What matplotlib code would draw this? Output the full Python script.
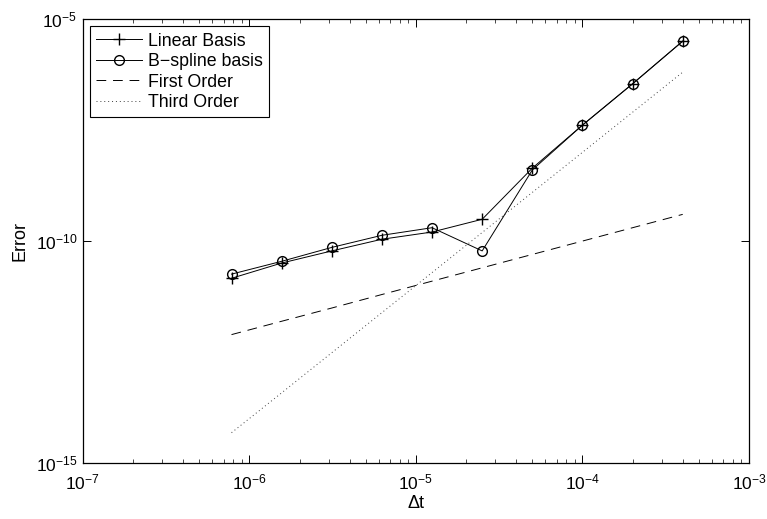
import matplotlib
matplotlib.use("Agg")
import matplotlib.pyplot as plt
from matplotlib.ticker import LogLocator

# Datos
dt = [7.8125e-7, 1.5625e-6, 3.125e-6, 6.25e-6, 1.25e-5, 2.5e-5, 5e-5, 1e-4, 2e-4, 4e-4]
err_linear = [1.45e-11, 3.2e-11, 6.0e-11, 1.1e-10, 1.6e-10, 3.1e-10, 4.4e-9, 4.1e-8, 3.5e-7, 3.2e-6]
err_bspline = [1.8e-11, 3.5e-11, 7.2e-11, 1.35e-10, 2.0e-10, 6.0e-11, 4.0e-9, 4.1e-8, 3.5e-7, 3.2e-6]
first_order = [7.8e-13, 1.56e-12, 3.1e-12, 6.25e-12, 1.25e-11, 2.5e-11, 5e-11, 1e-10, 2e-10, 4e-10]
third_order = [4.8e-15, 3.8e-14, 3.05e-13, 2.44e-12, 1.95e-11, 1.56e-10, 1.25e-9, 1e-8, 8e-8, 6.4e-7]

plt.rcParams["font.family"] = ["Liberation Sans", "DejaVu Sans"]
plt.rcParams["mathtext.fontset"] = "custom"
plt.rcParams["mathtext.rm"] = "Liberation Sans"
plt.rcParams["mathtext.it"] = "Liberation Sans"
plt.rcParams["mathtext.default"] = "regular"

fig = plt.figure(figsize=(7.67, 5.19), dpi=100)
ax = fig.add_axes([0.108, 0.108, 0.8685, 0.855])

ax.loglog(dt, err_linear, "k-", marker="+", markersize=8, linewidth=0.7, label="Linear Basis")
ax.loglog(dt, err_bspline, "k-", marker="o", markersize=7, markerfacecolor="none",
          linewidth=0.7, label="B\u2212spline basis")
ax.loglog(dt, first_order, "k", linestyle=(0, (10, 7)), linewidth=0.7, label="First Order")
ax.loglog(dt, third_order, color="0.25", linestyle=(0, (1, 3)), linewidth=0.7, label="Third Order")

ax.set_xlim(1e-7, 1e-3)
ax.set_ylim(1e-15, 1e-5)
ax.xaxis.set_major_locator(LogLocator(base=10, numticks=10))
ax.set_yticks([1e-15, 1e-10, 1e-5])
ax.yaxis.set_minor_locator(plt.NullLocator())
ax.tick_params(which="both", direction="in", top=True, right=True, labelsize=12.5)
ax.tick_params(axis="x", which="major", pad=7)
ax.tick_params(axis="y", which="major", pad=4)
ax.tick_params(which="major", length=6, width=0.7)
ax.tick_params(which="minor", length=3, width=0.5)
for s in ax.spines.values():
    s.set_linewidth(0.9)

ax.set_xlabel("\u0394t", fontsize=13, labelpad=2)
ax.set_ylabel("Error", fontsize=13, labelpad=5)

leg = ax.legend(loc="upper left", fontsize=12.8, fancybox=False, edgecolor="k",
                framealpha=1, borderpad=0.35, labelspacing=0.2, handlelength=2.6,
                handletextpad=0.3, borderaxespad=0.4)
leg.get_frame().set_linewidth(0.8)

fig.savefig("out.png", dpi=100)
